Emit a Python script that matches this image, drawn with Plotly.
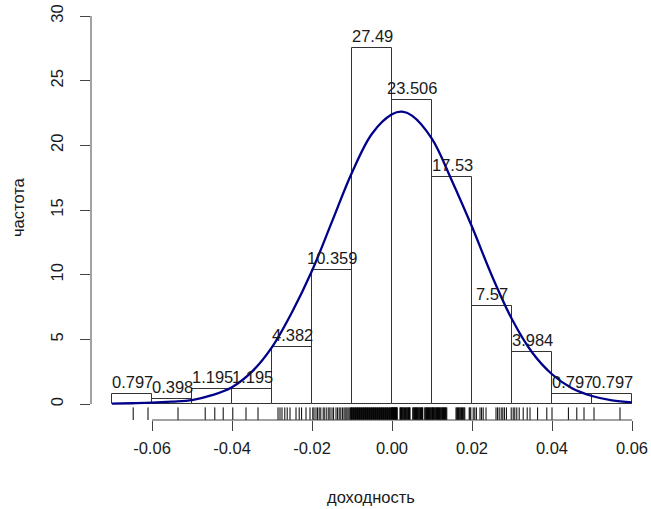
import plotly.graph_objects as go

# ---- data ----
bin_left = [-0.07, -0.06, -0.05, -0.04, -0.03, -0.02, -0.01, 0.00, 0.01, 0.02, 0.03, 0.04, 0.05]
bin_width = 0.01
density = [0.797, 0.398, 1.195, 1.195, 4.382, 10.359, 27.49, 23.506, 17.53, 7.57, 3.984, 0.797, 0.797]
bar_labels = ["0.797", "0.398", "1.195", "1.195", "4.382", "10.359", "27.49", "23.506", "17.53", "7.57", "3.984", "0.797", "0.797"]

curve_x = [-0.070, -0.065, -0.060, -0.055, -0.050, -0.045, -0.040, -0.035, -0.030, -0.025,
           -0.020, -0.015, -0.010, -0.005, 0.000, 0.0025, 0.005, 0.010, 0.015, 0.020,
           0.025, 0.030, 0.035, 0.040, 0.045, 0.050, 0.055, 0.060]
curve_y = [0.03, 0.06, 0.10, 0.18, 0.30, 0.68, 1.30, 2.50, 4.40, 7.10,
           10.30, 14.10, 17.90, 20.90, 22.40, 22.60, 22.30, 20.50, 17.25, 13.70,
           9.90, 6.55, 4.00, 2.30, 1.22, 0.62, 0.28, 0.12]

# rug observations in units of 1e-4
rug_1e4 = [-647, -610, -535,
           -467, -443, -422,
           -398, -365, -335,
           -285, -280, -275, -268, -262, -255, -240, -232, -226, -215, -205,
           -198, -195, -190, -186, -182, -178, -172, -168, -163, -158, -155, -150, -146,
           -140, -136, -132, -128, -124, -120, -117, -113, -110, -107, -104, -102, -101,
           -99, -97, -96, -94, -92, -91, -89, -87, -86, -84, -82, -81, -79, -77, -76, -74,
           -72, -71, -69, -67, -66, -64, -62, -61, -59, -57, -56, -54, -52, -51, -49, -47,
           -46, -44, -42, -41, -39, -37, -36, -34, -32, -31, -29, -27, -26, -24, -22, -21,
           -19, -17, -16, -14, -12, -11, -9, -7, -6, -4, -2, -1, 0,
           1, 2, 3, 4, 5, 6, 7, 8, 9, 10, 11, 12, 13,
           20, 21, 23, 24, 25, 27, 28, 30, 31, 34, 35, 37, 38, 40, 41, 43, 44, 45,
           52, 53, 55, 56, 58, 59, 61, 62, 64, 65, 67, 68, 70, 71, 73, 74, 76, 77,
           82, 83, 85, 86, 88, 89, 91, 92, 94, 95, 97, 98, 100,
           101, 102, 104, 105, 107, 108, 110, 111, 113, 114, 116, 117, 119, 120, 122, 123,
           125, 126, 128, 129, 131, 132, 134, 135, 137,
           160, 162, 164, 166, 168, 170, 172, 174, 176, 178, 180, 182, 193, 195, 197,
           203, 207, 211, 220, 224, 228, 235, 260, 264, 268, 273, 277, 281, 286, 298,
           303, 307, 312, 318, 328, 338, 345, 364, 387, 400,
           441, 462, 480, 505, 570]

x_ticks = [-0.06, -0.04, -0.02, 0.00, 0.02, 0.04, 0.06]
x_tick_text = ["-0.06", "-0.04", "-0.02", "0.00", "0.02", "0.04", "0.06"]
y_ticks = [0, 5, 10, 15, 20, 25, 30]
x_title = "доходность"
y_title = "частота"

FONT = "Liberation Sans, Arial, sans-serif"
FS = 16.5
AX = "#444444"
TXT = "#1a1a1a"

fig = go.Figure()

bin_center = [b + bin_width / 2 for b in bin_left]
fig.add_trace(go.Bar(
    x=bin_center, y=density, width=[bin_width] * len(bin_left),
    marker=dict(color="white", line=dict(color="#333333", width=1)),
    hoverinfo="skip", showlegend=False))

fig.add_trace(go.Scatter(
    x=curve_x, y=curve_y, mode="lines", line=dict(color="#00008B", width=2.3, shape="spline"),
    hoverinfo="skip", showlegend=False))

ymin, ymax = -1.237, 31.237
rug_top = ymin + 0.03 * (ymax - ymin)
rx, ry = [], []
for v in rug_1e4:
    rx += [v / 10000, v / 10000, None]
    ry += [ymin, rug_top, None]
fig.add_trace(go.Scatter(x=rx, y=ry, mode="lines", line=dict(color="black", width=1),
                         hoverinfo="skip", showlegend=False))

for xc, h, t in zip(bin_center, density, bar_labels):
    fig.add_annotation(x=xc, y=h, text=t, showarrow=False, xanchor="center", yanchor="bottom",
                       yshift=1, font=dict(family=FONT, size=FS, color=TXT))

# axis lines limited to the tick range (R style)
fig.add_shape(type="line", xref="x", yref="paper", x0=x_ticks[0], x1=x_ticks[-1], y0=0, y1=0,
              line=dict(color=AX, width=1))
fig.add_shape(type="line", xref="paper", yref="y", x0=0, x1=0, y0=y_ticks[0], y1=y_ticks[-1],
              line=dict(color=AX, width=1))

fig.add_annotation(xref="paper", yref="paper", x=0.5, y=0, yshift=-77, text=x_title,
                   showarrow=False, xanchor="center", yanchor="middle",
                   font=dict(family=FONT, size=FS, color=TXT))
fig.add_annotation(xref="paper", x=-91 / 560 + 18 / 560, yref="paper", y=0.5, yshift=3,
                   text=y_title, textangle=-90, showarrow=False, xanchor="center", yanchor="middle",
                   font=dict(family=FONT, size=FS, color=TXT))

fig.update_layout(
    width=651, height=509,
    margin=dict(l=91, r=0, t=0, b=89),
    plot_bgcolor="white", paper_bgcolor="white",
    bargap=0,
    xaxis=dict(range=[-0.07525, 0.06475], tickvals=x_ticks, ticktext=x_tick_text,
               ticks="outside", ticklen=10, tickwidth=1, tickcolor=AX, ticklabelstandoff=3,
               showgrid=False, zeroline=False, showline=False,
               tickfont=dict(family=FONT, size=FS, color=TXT)),
    yaxis=dict(range=[ymin, ymax], tickvals=y_ticks,
               ticks="outside", ticklen=10, tickwidth=1, tickcolor=AX, tickangle=-90,
               ticklabelstandoff=10,
               showgrid=False, zeroline=False, showline=False,
               tickfont=dict(family=FONT, size=FS, color=TXT)),
)

fig.write_html("out.html")
